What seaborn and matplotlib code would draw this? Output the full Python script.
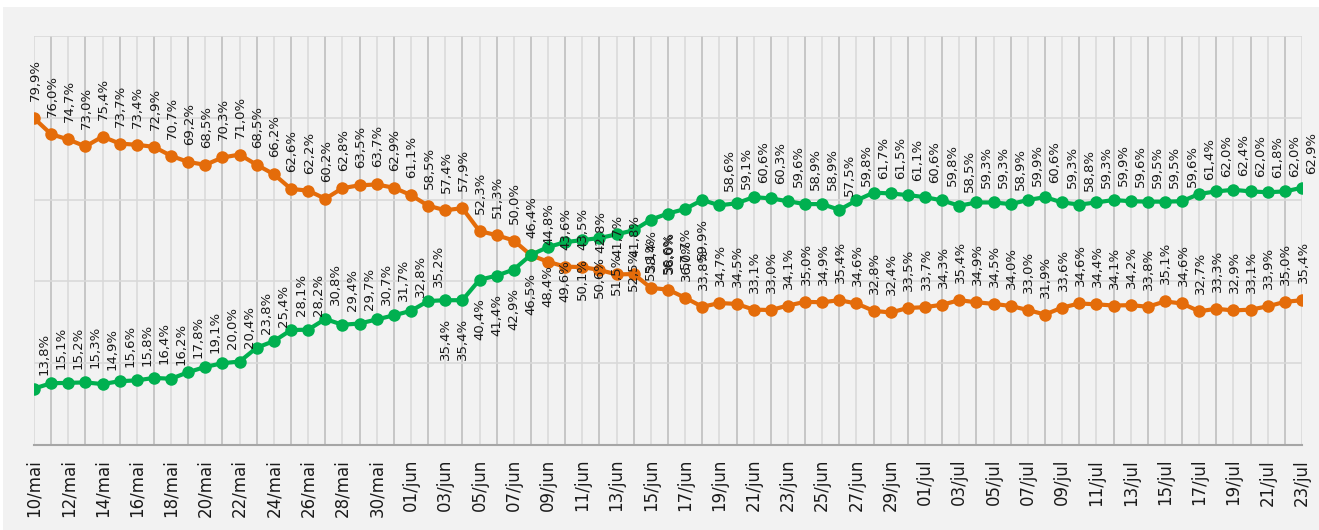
import numpy as np
import pandas as pd
import matplotlib
matplotlib.use("Agg")
import matplotlib.pyplot as plt
from matplotlib.patches import Rectangle
import seaborn as sns

# ---------------- data ----------------
dates = pd.date_range("2020-05-10", "2020-07-23", freq="D")
month_pt = {5: "mai", 6: "jun", 7: "jul"}
date_labels = [f"{d.day:02d}/{month_pt[d.month]}" for d in dates]

orange_values = [79.9, 76.0, 74.7, 73.0, 75.4, 73.7, 73.4, 72.9, 70.7, 69.2,
                 68.5, 70.3, 71.0, 68.5, 66.2, 62.6, 62.2, 60.2, 62.8, 63.5,
                 63.7, 62.9, 61.1, 58.5, 57.4, 57.9, 52.3, 51.3, 50.0, 46.4,
                 44.8, 43.6, 43.5, 42.8, 41.7, 41.8, 38.4, 38.0, 36.0, 33.8,
                 34.7, 34.5, 33.1, 33.0, 34.1, 35.0, 34.9, 35.4, 34.6, 32.8,
                 32.4, 33.5, 33.7, 34.3, 35.4, 34.9, 34.5, 34.0, 33.0, 31.9,
                 33.6, 34.6, 34.4, 34.1, 34.2, 33.8, 35.1, 34.6, 32.7, 33.3,
                 32.9, 33.1, 33.9, 35.0, 35.4]

green_values = [13.8, 15.1, 15.2, 15.3, 14.9, 15.6, 15.8, 16.4, 16.2, 17.8,
                19.1, 20.0, 20.4, 23.8, 25.4, 28.1, 28.2, 30.8, 29.4, 29.7,
                30.7, 31.7, 32.8, 35.2, 35.4, 35.4, 40.4, 41.4, 42.9, 46.5,
                48.4, 49.6, 50.1, 50.6, 51.5, 52.5, 55.1, 56.6, 57.7, 59.9,
                58.6, 59.1, 60.6, 60.3, 59.6, 58.9, 58.9, 57.5, 59.8, 61.7,
                61.5, 61.1, 60.6, 59.8, 58.5, 59.3, 59.3, 58.9, 59.9, 60.6,
                59.3, 58.8, 59.3, 59.9, 59.6, 59.5, 59.5, 59.6, 61.4, 62.0,
                62.4, 62.0, 61.8, 62.0, 62.9]

series_names = ["laranja", "verde"]
series_colors = {"laranja": "#E46C0A", "verde": "#00B050"}

n = len(date_labels)
df = pd.DataFrame({
    "idx": list(range(n)) * 2,
    "valor": orange_values + green_values,
    "serie": [series_names[0]] * n + [series_names[1]] * n,
})

# ---------------- figure ----------------
sns.set_style("white")
plt.rcParams["font.family"] = ["DejaVu Sans"]

W, H = 1319, 530
fig = plt.figure(figsize=(W / 100, H / 100), dpi=100, facecolor="white")
fig.patches.append(Rectangle((3 / W, 0), 1, (H - 7) / H, transform=fig.transFigure,
                             facecolor="#F2F2F2", edgecolor="none", zorder=-10))
ax = fig.add_axes([34 / W, 1 - 445 / H, (1302 - 34) / W, (445 - 36) / H])
ax.set_facecolor("#F2F2F2")

# grid
ax.set_xlim(0, n - 1)
ax.set_ylim(0, 100)
ax.set_yticks(np.arange(0, 101, 20))
ax.set_xticks(np.arange(0, n, 2))
ax.set_xticks(np.arange(1, n, 2), minor=True)
ax.grid(axis="y", which="major", color="#D9D9D9", linewidth=1.2, zorder=0)
ax.grid(axis="x", which="major", color="#DADADA", linewidth=1.2, zorder=0)
ax.grid(axis="x", which="minor", color="#BFBFBF", linewidth=1.2, zorder=0)
ax.set_axisbelow(True)

sns.lineplot(data=df, x="idx", y="valor", hue="serie", palette=series_colors,
             marker="o", markersize=9, markeredgewidth=0, linewidth=3.0,
             legend=False, ax=ax, zorder=3)

for s in ["top", "right", "left"]:
    ax.spines[s].set_visible(False)
ax.spines["bottom"].set_color("#A6A6A6")
ax.spines["bottom"].set_linewidth(1.5)
ax.set_yticklabels([])
ax.tick_params(axis="y", length=0)
ax.set_xticklabels(date_labels[::2], rotation=90, fontsize=12, color="#1a1a1a")
ax.tick_params(axis="x", which="major", length=6, width=1.5, color="#A6A6A6", pad=4)
ax.tick_params(axis="x", which="minor", length=0)
ax.set_xlabel("")
ax.set_ylabel("")


def fmt(v):
    return f"{v:.1f}".replace(".", ",") + "%"


LABEL_FS = 9.5
for i, v in enumerate(orange_values):
    ax.annotate(fmt(v), (i, v), xytext=(1, 17), textcoords="offset pixels",
                rotation=90, ha="center", va="bottom", fontsize=LABEL_FS,
                color="#1a1a1a", zorder=5)

below = set(range(24, 40))
for i, v in enumerate(green_values):
    if i in below:
        ax.annotate(fmt(v), (i, v), xytext=(0, -18), textcoords="offset pixels",
                    rotation=90, ha="center", va="top", fontsize=LABEL_FS,
                    color="#1a1a1a", zorder=5)
    else:
        ax.annotate(fmt(v), (i, v), xytext=(10, 14), textcoords="offset pixels",
                    rotation=90, ha="center", va="bottom", fontsize=LABEL_FS,
                    color="#1a1a1a", zorder=5)

fig.savefig("out.png", dpi=100, facecolor=fig.get_facecolor())
